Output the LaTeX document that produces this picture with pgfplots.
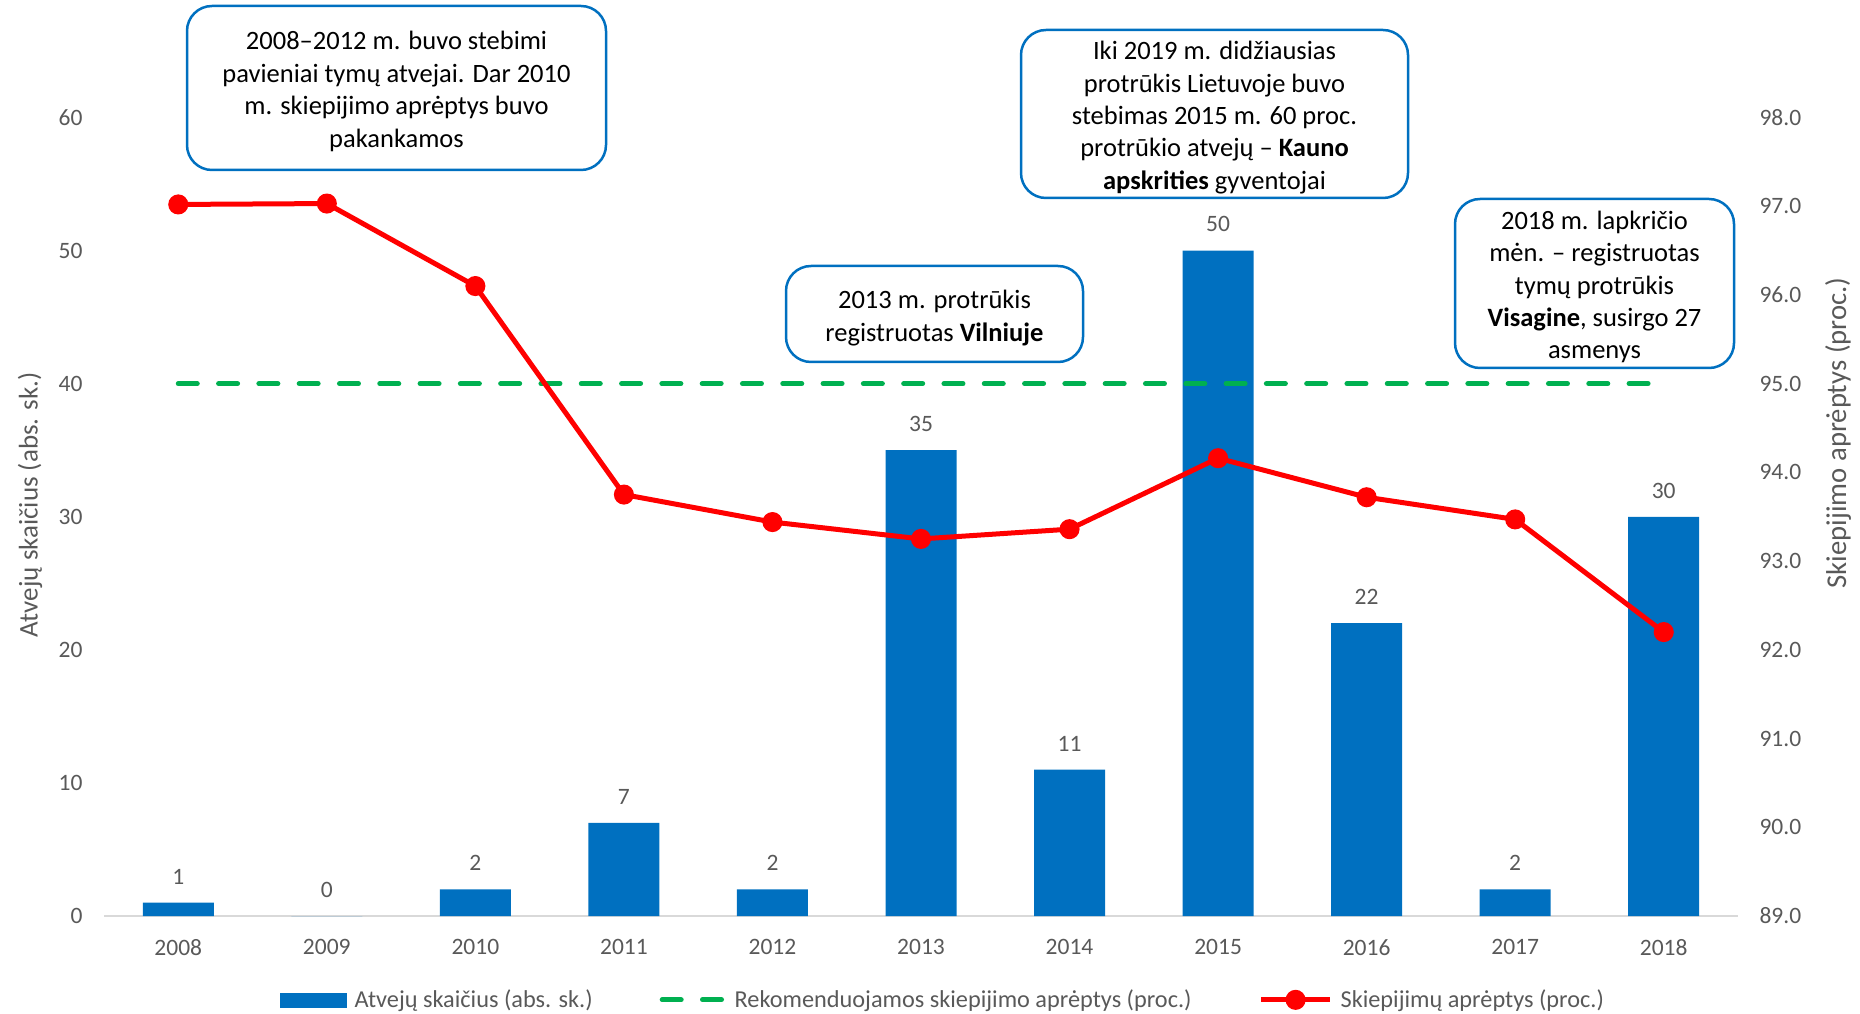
\documentclass[border=0pt]{standalone}
\usepackage{fontspec}
\setmainfont{Carlito}
\usepackage{pgfplots}
\pgfplotsset{compat=1.18}
\definecolor{barblue}{HTML}{0070C0}
\definecolor{recgreen}{HTML}{00B050}
\definecolor{linered}{HTML}{FF0000}
\definecolor{txtgray}{HTML}{595959}
\definecolor{axgray}{HTML}{D9D9D9}
\pgfplotsset{/pgf/number format/assume math mode=true,
 barleg/.style={legend image code/.code={\fill[barblue] (0pt,-7pt) rectangle (66pt,7pt);}},
 greenleg/.style={legend image code/.code={\draw[##1] (0pt,0pt) -- (62pt,0pt);}},
 redleg/.style={legend image code/.code={\draw[mark repeat=2, mark phase=2, ##1] plot coordinates {(0pt,0pt) (34.5pt,0pt) (69pt,0pt)};}},
}
\tikzset{note/.style={draw=barblue, line width=2.5pt, rounded corners=25pt, fill=white, inner sep=0pt},
 notetext/.style={align=center, inner sep=0pt, font=\fontsize{26.5}{32.4}\selectfont, text=black}}
\begin{document}
\begin{tikzpicture}
\path[use as bounding box] (0pt,0pt) rectangle (1860pt,1013pt);
\begin{axis}[
 at={(104pt,97pt)}, anchor=south west,
 scale only axis, width=1634pt, height=798.5pt,
 xmin=-0.5, xmax=10.5, ymin=0, ymax=60,
 xtick={0,...,10},
 xticklabels={2008,2009,2010,2011,2012,2013,2014,2015,2016,2017,2018},
 ytick={0,10,...,60},
 axis x line*=bottom, axis y line*=left,
 x axis line style={draw=axgray, line width=1.5pt, -},
 y axis line style={draw=none},
 major tick length=0pt,
 tick label style={font=\fontsize{23.5}{27}\selectfont, text=txtgray},
 yticklabel style={xshift=-18pt},
 xticklabel style={yshift=-20pt},
 ylabel={Atvejų skaičius (abs. sk.)},
 every axis y label/.style={at={(axis description cs:-0.0453,0.515)}, rotate=90, anchor=center, font=\fontsize{27}{32}\selectfont, text=txtgray},
 ybar, bar width=71pt,
 nodes near coords,
 every node near coord/.append style={font=\fontsize{23.5}{27}\selectfont, text=txtgray, yshift=15pt},
 clip=false,
]
\addplot[fill=barblue, draw=none] coordinates {
(0,1) (1,0) (2,2) (3,7) (4,2) (5,35) (6,11) (7,50) (8,22) (9,2) (10,30)};
\end{axis}
\begin{axis}[
 at={(104pt,97pt)}, anchor=south west,
 scale only axis, width=1634pt, height=798.5pt,
 xmin=-0.5, xmax=10.5, ymin=89, ymax=98,
 ytick={89,90,91,92,93,94,95,96,97,98},
 axis x line=none, axis y line*=right,
 y axis line style={draw=none},
 major tick length=0pt,
 yticklabel style={/pgf/number format/fixed, /pgf/number format/fixed zerofill, /pgf/number format/precision=1, font=\fontsize{23.5}{27}\selectfont, text=txtgray, xshift=18pt},
 ylabel={Skiepijimo aprėptys (proc.)},
 every axis y label/.style={at={(axis description cs:1.0612,0.605)}, rotate=90, anchor=center, font=\fontsize{28.7}{34}\selectfont, text=txtgray},
 legend columns=3,
 legend cell align=left,
 legend style={at={(axis description cs:0.1077,-0.105)}, anchor=west, draw=none, fill=none, inner sep=0pt, font=\fontsize{24.3}{28}\selectfont, text=txtgray,
   /tikz/every odd column/.append style={column sep=6pt},
   /tikz/every even column/.append style={column sep=65pt}},
 clip=false,
]
\addlegendimage{barleg}
\addlegendentry{Atvejų skaičius (abs. sk.)}
\addplot[recgreen, line width=5pt, line cap=round, dash pattern=on 19pt off 21.3pt, greenleg] coordinates {(0,95) (10,95)};
\addlegendentry{Rekomenduojamos skiepijimo aprėptys (proc.)}
\addplot[linered, line width=5pt, mark=*, mark size=7.5pt, mark options={fill=linered, draw=none}, redleg] coordinates {
(0,97.02) (1,97.03) (2,96.1) (3,93.75) (4,93.44) (5,93.25) (6,93.36) (7,94.16) (8,93.72) (9,93.47) (10,92.2)};
\addlegendentry{Skiepijimų aprėptys (proc.)}
\end{axis}
\node[note, minimum width=419pt, minimum height=164pt] at (396.5pt,925pt) {};
\node[notetext] at (396.5pt,921.5pt) {2008–2012 m. buvo stebimi\\pavieniai tymų atvejai. Dar 2010\\m. skiepijimo aprėptys buvo\\pakankamos};
\node[note, minimum width=297pt, minimum height=96pt] at (934.5pt,699pt) {};
\node[notetext] at (934.5pt,695pt) {2013 m. protrūkis\\registruotas \textbf{Vilniuje}};
\node[note, minimum width=387pt, minimum height=168pt] at (1214.5pt,899pt) {};
\node[notetext] at (1214.5pt,895.5pt) {Iki 2019 m. didžiausias\\protrūkis Lietuvoje buvo\\stebimas 2015 m. 60 proc.\\protrūkio atvejų – \textbf{Kauno}\\\textbf{apskrities} gyventojai};
\node[note, minimum width=279pt, minimum height=169pt] at (1594.5pt,729.5pt) {};
\node[notetext] at (1594.5pt,726pt) {2018 m. lapkričio\\mėn. – registruotas\\tymų protrūkis\\\textbf{Visagine}, susirgo 27\\asmenys};
\end{tikzpicture}
\end{document}
